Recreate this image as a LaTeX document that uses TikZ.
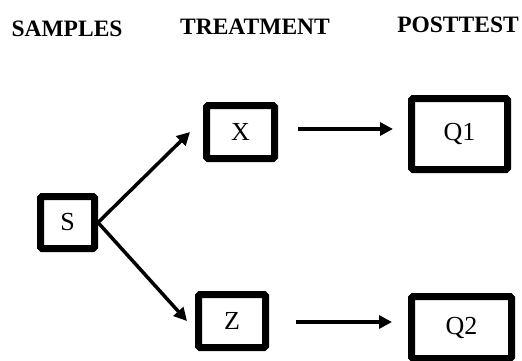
\documentclass[tikz,border=0pt]{standalone}
\usepackage{fontspec}
\setmainfont{Liberation Serif}
\usetikzlibrary{positioning, calc, arrows.meta}

\begin{document}
\begin{tikzpicture}[x=1pt, y=-1pt,
  box/.style={draw=black, line width=7pt, rounded corners=1.5pt, inner sep=0pt, font=\fontsize{26}{30}\selectfont},
  head/.style={font=\fontsize{23.5}{28}\selectfont\bfseries},
  link/.style={line width=3.5pt, -{Triangle[length=13pt, width=13pt]}}
]
  \useasboundingbox (0,0) rectangle (522,361);
  % column titles
  \node[head] (hsamp) at (67,29) {SAMPLES};
  \node[head] (htreat) at (255,27) {TREATMENT};
  \node[head] (hpost) at (458,25) {POSTTEST};
  % boxes
  \node[box, minimum width=54pt, minimum height=52pt] (samp) at (67.5,222.5) {S};
  \node[box, minimum width=68pt, minimum height=53pt] (treatx) at (240.5,132) {X};
  \node[box, minimum width=67pt, minimum height=53pt] (treatz) at (232,321) {Z};
  \node[box, minimum width=96pt, minimum height=71pt] (postone) at (459.5,134) {Q1};
  \node[box, minimum width=100pt, minimum height=62pt] (posttwo) at (461.5,327.5) {Q2};
  % arrows
  \draw[link] (samp.east) -- ([xshift=-13pt]treatx.west);
  \draw[link] (samp.east) -- ([xshift=-8pt]treatz.west);
  \draw[link, shorten <=20pt, shorten >=15pt] ([yshift=3pt]treatx.east) -- ([yshift=3pt]treatx.east -| postone.west);
  \draw[link, shorten <=27pt, shorten >=16pt] ([yshift=-1pt]treatz.east) -- ([yshift=-1pt]treatz.east -| posttwo.west);
\end{tikzpicture}
\end{document}
